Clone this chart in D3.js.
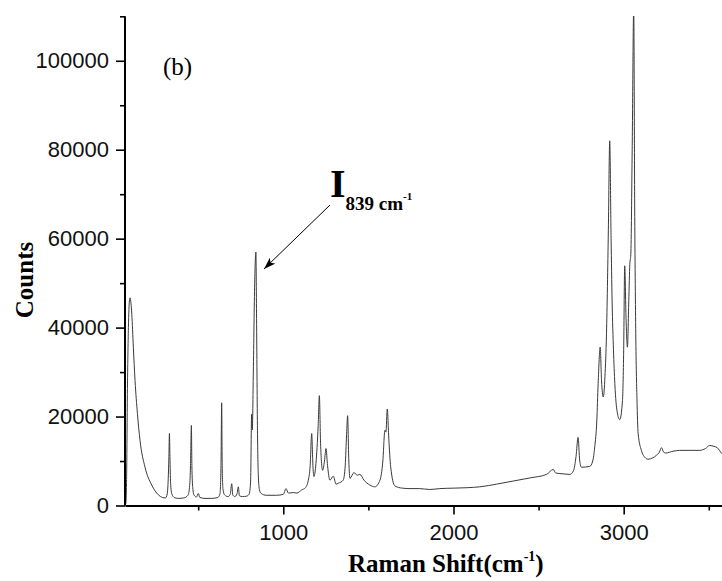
<!DOCTYPE html>
<html>
<head>
<meta charset="utf-8">
<script src="https://cdn.jsdelivr.net/npm/d3@7"></script>
<style>
  body { margin: 0; background: #fff; }
  svg { display: block; }
</style>
</head>
<body>
<script>
// raman spectrum
var ramanShift = [70, 76, 80, 84, 90, 96, 100, 105, 110, 119, 129, 143, 158, 187, 227, 266,
  290, 308, 318, 324, 328, 331, 334, 338, 345, 360, 383, 415, 440, 450, 455, 460, 463, 468, 476, 490,
  501, 510, 540, 580, 615, 628, 634, 638, 641, 646, 655, 675, 688, 697, 703, 715, 728, 736, 742, 760,
  785, 800, 808, 814, 818, 824, 832, 839, 843, 848, 853, 860, 870, 900, 960, 1000, 1016, 1030, 1059, 1080,
  1108, 1130, 1147, 1158, 1167, 1174, 1180, 1192, 1205, 1212, 1219, 1231, 1242, 1251, 1260, 1274, 1294, 1310, 1323, 1352,
  1364, 1372, 1378, 1385, 1392, 1415, 1435, 1450, 1474, 1509, 1538, 1568, 1585, 1597, 1603, 1611, 1620, 1631, 1656, 1700,
  1744, 1800, 1861, 1920, 2000, 2080, 2155, 2253, 2351, 2449, 2547, 2586, 2601, 2650, 2684, 2705, 2720, 2732, 2742, 2752,
  2801, 2818, 2830, 2842, 2850, 2862, 2870, 2880, 2890, 2899, 2910, 2918, 2926, 2932, 2940, 2948, 2962, 2977, 2993, 3000,
  3006, 3014, 3022, 3030, 3036, 3042, 3050, 3059, 3065, 3071, 3078, 3085, 3104, 3125, 3143, 3170, 3193, 3210, 3222, 3235,
  3247, 3290, 3329, 3390, 3447, 3480, 3506, 3530, 3550, 3576, 3600];
var counts = [0, 800, 8000, 25000, 40000, 46000, 46700, 45500, 43000, 35600, 28100, 20700, 14700, 8700, 4600, 2400,
  1800, 1700, 2600, 6000, 11000, 16200, 11000, 5000, 2600, 1800, 1600, 1700, 2300, 4500, 9000, 18000, 9000, 4000, 2300, 1900,
  2700, 1800, 1600, 1600, 1800, 2600, 9000, 23100, 9000, 3600, 2400, 2000, 2500, 4900, 2400, 2000, 2600, 4200, 2200, 2000,
  2100, 2600, 5500, 20500, 17000, 30000, 50000, 57000, 42000, 18000, 7000, 3500, 2700, 2300, 2300, 2500, 3800, 2800, 2900, 2800,
  3500, 4000, 5700, 9000, 16200, 9000, 6500, 9500, 18000, 24700, 14000, 7900, 10000, 12800, 9000, 5700, 6600, 4800, 5000, 5700,
  9000, 16000, 20200, 10000, 6100, 7400, 6800, 7000, 5700, 4600, 4200, 5700, 10000, 16900, 16500, 21700, 15000, 8700, 4400, 3900,
  3800, 3800, 3600, 3800, 3900, 4000, 4200, 4800, 5500, 6200, 7000, 8100, 7300, 7100, 7000, 7800, 11000, 15300, 10000, 8600,
  8800, 10000, 13200, 19000, 27400, 35600, 28000, 24400, 29000, 38600, 62000, 82000, 60000, 46000, 35000, 27400, 21000, 19300, 23600, 35000,
  53900, 42000, 35600, 46000, 54200, 56500, 80000, 112000, 65000, 38600, 24000, 16200, 12400, 10800, 10400, 10700, 11300, 12000, 13000, 12000,
  11800, 12200, 12400, 12400, 12400, 12800, 13500, 13300, 13000, 11700, 11000];

var xMajor = [1000, 2000, 3000];
var xMinor = [500, 1500, 2500, 3500];
var yMajor = [0, 20000, 40000, 60000, 80000, 100000];
var yMinor = [10000, 30000, 50000, 70000, 90000, 110000];

var width = 722, height = 581;
var serif = "'Liberation Serif', 'Times New Roman', serif";
var sans = "'Liberation Sans', Arial, sans-serif";

var svg = d3.select('body').append('svg').attr('width', width).attr('height', height);

var x = d3.scaleLinear().domain([70, 3600]).range([125, 725.8]);
var y = d3.scaleLinear().domain([0, 110000]).range([505.5, 16.3]);

// clip so the tall peak stops at the top of the axis
svg.append('clipPath').attr('id', 'plotclip')
  .append('rect').attr('x', 125).attr('y', 16).attr('width', width - 125).attr('height', 490);

var pts = ramanShift.map(function(d, i) { return [d, counts[i]]; });
var line = d3.line()
  .x(function(d) { return x(d[0]); })
  .y(function(d) { return y(d[1]); })
  .curve(d3.curveMonotoneX);

svg.append('path').datum(pts)
  .attr('clip-path', 'url(#plotclip)')
  .attr('d', line)
  .attr('fill', 'none')
  .attr('stroke', '#3a3a3a')
  .attr('stroke-width', 1);

// y axis
var yAxis = svg.append('g').attr('transform', 'translate(125,0)')
  .call(d3.axisLeft(y).tickValues(yMajor).tickFormat(d3.format('d')).tickSize(9).tickPadding(7));
svg.append('g').attr('transform', 'translate(125,0)')
  .call(d3.axisLeft(y).tickValues(yMinor).tickFormat('').tickSize(5).tickSizeOuter(0))
  .select('.domain').remove();

// x axis
var xAxis = svg.append('g').attr('transform', 'translate(0,505.5)')
  .call(d3.axisBottom(x).tickValues(xMajor).tickFormat(d3.format('d')).tickSize(9).tickPadding(10).tickSizeOuter(0));
svg.append('g').attr('transform', 'translate(0,505.5)')
  .call(d3.axisBottom(x).tickValues(xMinor).tickFormat('').tickSize(5).tickSizeOuter(0))
  .select('.domain').remove();

yAxis.select('.domain').attr('d', 'M0,' + y(110000) + 'V' + y(0));
svg.selectAll('.domain').attr('stroke', '#000').attr('stroke-width', 2);
svg.selectAll('.tick line').attr('stroke', '#000').attr('stroke-width', 1.6);
svg.selectAll('.tick text').attr('font-family', sans).attr('font-size', 22).attr('fill', '#111');

// axis titles
svg.append('text')
  .attr('transform', 'translate(33,280) rotate(-90)')
  .attr('text-anchor', 'middle')
  .attr('font-family', serif).attr('font-weight', 'bold').attr('font-size', 25)
  .text('Counts');

var xt = svg.append('text')
  .attr('x', 348).attr('y', 572)
  .attr('font-family', serif).attr('font-weight', 'bold').attr('font-size', 25);
xt.append('tspan').text('Raman Shift(cm');
xt.append('tspan').attr('dy', -11).attr('font-size', 14).text('-1');
xt.append('tspan').attr('dy', 11).text(')');

// panel label
svg.append('text').attr('x', 163).attr('y', 75)
  .attr('font-family', serif).attr('font-size', 25).text('(b)');

// peak annotation
var ann = svg.append('text').attr('x', 330).attr('y', 197)
  .attr('font-family', serif).attr('font-weight', 'bold');
ann.append('tspan').attr('font-size', 40).text('I');
ann.append('tspan').attr('dy', 13).attr('font-size', 19).text('839 cm');
ann.append('tspan').attr('dy', -10).attr('font-size', 11).text('-1');

svg.append('defs').append('marker')
  .attr('id', 'arrow').attr('viewBox', '0 0 12 8').attr('refX', 12).attr('refY', 4)
  .attr('markerWidth', 12).attr('markerHeight', 8).attr('markerUnits', 'userSpaceOnUse')
  .attr('orient', 'auto')
  .append('path').attr('d', 'M0,0L12,4L0,8L3,4Z').attr('fill', '#000');

svg.append('line')
  .attr('x1', 330).attr('y1', 205).attr('x2', 264).attr('y2', 269)
  .attr('stroke', '#000').attr('stroke-width', 1)
  .attr('marker-end', 'url(#arrow)');
</script>
</body>
</html>
